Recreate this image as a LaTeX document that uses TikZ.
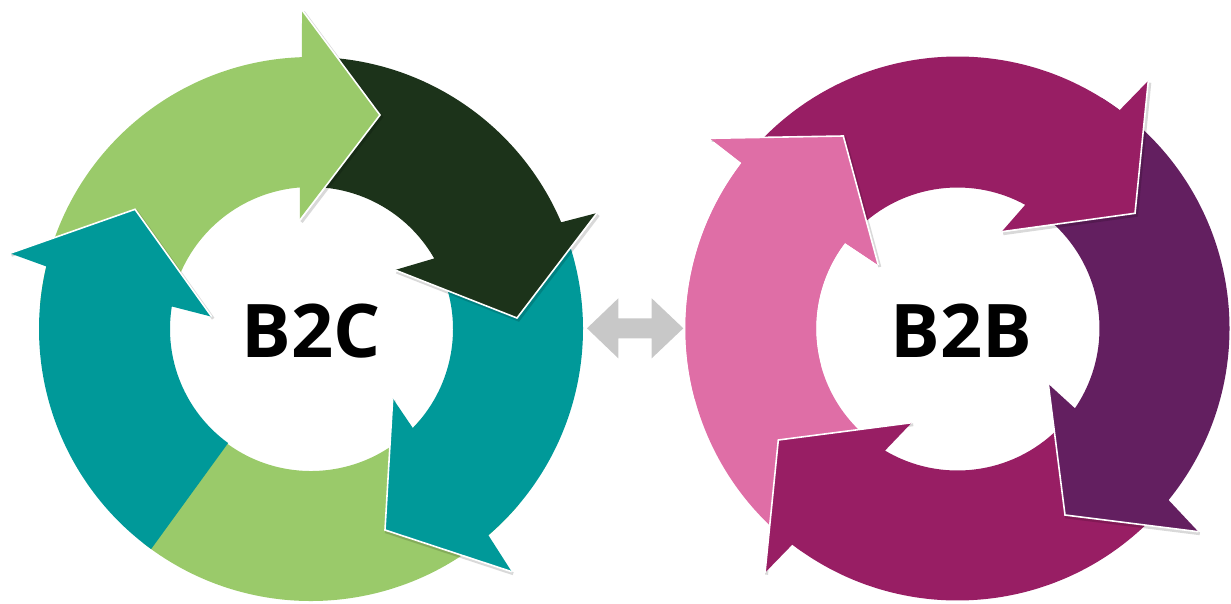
\documentclass[tikz,border=0pt]{standalone}
\usepackage{fontspec}
\setsansfont{Open Sans}
\usetikzlibrary{calc}
\definecolor{lgreen}{HTML}{9ACA6A}
\definecolor{dgreen}{HTML}{1C331A}
\definecolor{cteal}{HTML}{009999}
\definecolor{cpink}{HTML}{DF6EA6}
\definecolor{cmag}{HTML}{981E64}
\definecolor{cpurp}{HTML}{631F60}
\definecolor{cgray}{HTML}{C8C8C8}
\begin{document}
\begin{tikzpicture}[x=1pt,y=1pt,
  shadowline/.style={draw=black, opacity=0.15, line width=3pt, line join=miter, transform canvas={shift={(1.5pt,-2pt)}}},
  whiteedge/.style={draw=white, line width=1.6pt, line join=miter},
  biglabel/.style={font=\fontsize{74}{74}\selectfont\sffamily\bfseries, text=black, inner sep=0pt}]
\useasboundingbox (0,0) rectangle (1231,-603);
\coordinate (C1) at (311,-329);
\coordinate (C2) at (957.5,-328.5);
% arrowhead points: outer barb (o), tip (t), inner barb (i)
\coordinate (g1o) at (302,-10);    \coordinate (g1t) at (380,-115);   \coordinate (g1i) at (300,-220);
\coordinate (dgo) at (597,-213);   \coordinate (dgt) at (517,-318);   \coordinate (dgi) at (395,-270);
\coordinate (tro) at (511.7,-571.7); \coordinate (trt) at (385,-530); \coordinate (tri) at (392.7,-398.3);
\coordinate (tlo) at (10,-253.3);  \coordinate (tlt) at (135,-209.3); \coordinate (tli) at (211.7,-316.7);
\coordinate (pko) at (710,-138.3); \coordinate (pkt) at (843.3,-136); \coordinate (pki) at (878.3,-265);
\coordinate (m1o) at (1148.3,-80.7); \coordinate (m1t) at (1135,-213.3); \coordinate (m1i) at (1001.7,-231.7);
\coordinate (dpo) at (1198.3,-531.7); \coordinate (dpt) at (1065,-515); \coordinate (dpi) at (1048.3,-384);
\coordinate (m2o) at (765,-572.7); \coordinate (m2t) at (778.3,-440); \coordinate (m2i) at (911.7,-422.7);

% ---------- B2C cycle ----------
% bottom light green band
\fill[lgreen] ($(C1)+(-40:272)$) arc[start angle=-40, end angle=-128, radius=272]
  -- ($(C1)+(-128:142)$) arc[start angle=-128, end angle=-40, radius=142] -- cycle;
% teal right
\draw[shadowline] (tro) -- (trt) -- (tri);
\fill[cteal] ($(C1)+(20:272)$) arc[start angle=20, end angle=-49.3, radius=272]
  -- (tro) -- (trt) -- (tri) -- ($(C1)+(-44.2:142)$) arc[start angle=-44.2, end angle=20, radius=142] -- cycle;
\draw[whiteedge] (tro) -- (trt) -- (tri);
% dark green
\draw[shadowline] (dgo) -- (dgt) -- (dgi);
\fill[dgreen] ($(C1)+(88:272)$) arc[start angle=88, end angle=23.1, radius=272]
  -- (dgo) -- (dgt) -- (dgi) -- ($(C1)+(29.8:142)$) arc[start angle=29.8, end angle=88, radius=142] -- cycle;
\draw[whiteedge] (dgo) -- (dgt) -- (dgi);
% light green top
\draw[shadowline] (g1o) -- (g1t) -- (g1i);
\fill[lgreen] ($(C1)+(175:272)$) arc[start angle=175, end angle=91.9, radius=272]
  -- (g1o) -- (g1t) -- (g1i) -- ($(C1)+(94.5:142)$) arc[start angle=94.5, end angle=175, radius=142] -- cycle;
\draw[whiteedge] (g1o) -- (g1t) -- (g1i);
% teal left
\draw[shadowline] (tlo) -- (tlt) -- (tli);
\fill[cteal] ($(C1)+(234:272)$) arc[start angle=234, end angle=166.7, radius=272]
  -- (tlo) -- (tlt) -- (tli) -- ($(C1)+(170.8:141)$) arc[start angle=170.8, end angle=234, radius=141] -- cycle;
\draw[whiteedge] (tlo) -- (tlt) -- (tli);

% ---------- B2B cycle ----------
% pink (full)
\fill[cpink] ($(C2)+(235:272)$) arc[start angle=235, end angle=142.5, radius=272]
  -- (pko) -- (pkt) -- (pki) -- ($(C2)+(142.7:141.5)$) arc[start angle=142.7, end angle=235, radius=141.5] -- cycle;
% magenta bottom
\draw[shadowline] (m2o) -- (m2t) -- (m2i);
\fill[cmag] ($(C2)+(-45:272)$) arc[start angle=-45, end angle=-127.4, radius=272]
  -- (m2o) -- (m2t) -- (m2i) -- ($(C2)+(-120.7:142)$) arc[start angle=-120.7, end angle=-45, radius=142] -- cycle;
\draw[whiteedge] (m2o) -- (m2t) -- (m2i);
% dark purple
\draw[shadowline] (dpo) -- (dpt) -- (dpi);
\fill[cpurp] ($(C2)+(58:272)$) arc[start angle=58, end angle=-39.1, radius=272]
  -- (dpo) -- (dpt) -- (dpi) -- ($(C2)+(-34.2:142)$) arc[start angle=-34.2, end angle=58, radius=142] -- cycle;
\draw[whiteedge] (dpo) -- (dpt) -- (dpi);
% magenta top
\draw[shadowline] (m1o) -- (m1t) -- (m1i);
\fill[cmag] ($(C2)+(138:272)$) arc[start angle=138, end angle=53.4, radius=272]
  -- (m1o) -- (m1t) -- (m1i) -- ($(C2)+(61.3:141)$) arc[start angle=61.3, end angle=138, radius=141] -- cycle;
\draw[whiteedge] (m1o) -- (m1t) -- (m1i);
% pink (upper part, over magenta top tail)
\draw[shadowline] (pko) -- (pkt) -- (pki);
\fill[cpink] ($(C2)+(195:272)$) arc[start angle=195, end angle=142.5, radius=272]
  -- (pko) -- (pkt) -- (pki) -- ($(C2)+(142.7:141.5)$) arc[start angle=142.7, end angle=195, radius=141.5] -- cycle;
\draw[whiteedge] (pko) -- (pkt) -- (pki);

% ---------- double arrow between ----------
\fill[cgray] (587,-328.3) -- (618.3,-298.3) -- (618.3,-318.3) -- (651.7,-318.3) -- (651.7,-298.3)
  -- (683.3,-328.3) -- (651.7,-358.3) -- (651.7,-338.3) -- (618.3,-338.3) -- (618.3,-358.3) -- cycle;

% ---------- labels ----------
\node[biglabel] (b2c) at (311.5,-331) {B2C};
\node[biglabel] (b2b) at (961.5,-331) {B2B};
\end{tikzpicture}
\end{document}
